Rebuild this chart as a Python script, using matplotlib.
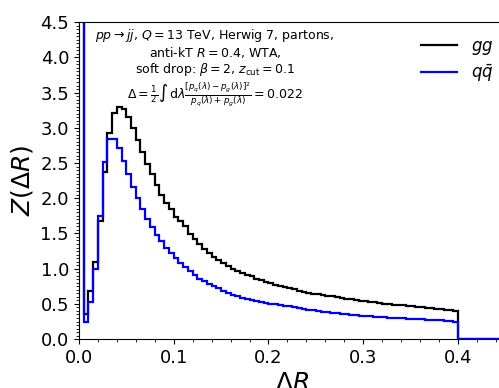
"""Z(ΔR) distribution for gg vs qqbar jets (Herwig 7, soft drop)."""
import matplotlib
matplotlib.use("Agg")
import matplotlib.pyplot as plt
import numpy as np
from matplotlib.ticker import MultipleLocator

# bin width 0.005 in ΔR, values from 0 up to R = 0.4
BIN_WIDTH = 0.005
gg = [
    6.0, 0.36, 0.69, 1.09, 1.67, 2.37, 2.93, 3.21, 3.30, 3.27,
    3.15, 3.00, 2.83, 2.65, 2.48, 2.34, 2.19, 2.05, 1.93, 1.84,
    1.74, 1.67, 1.60, 1.49, 1.42, 1.35, 1.28, 1.22, 1.17, 1.12,
    1.08, 1.04, 1.00, 0.97, 0.94, 0.915, 0.89, 0.86, 0.835, 0.81,
    0.79, 0.775, 0.76, 0.745, 0.72, 0.705, 0.69, 0.675, 0.66, 0.645,
    0.635, 0.625, 0.615, 0.605, 0.595, 0.585, 0.575, 0.565, 0.555, 0.545,
    0.535, 0.525, 0.52, 0.51, 0.50, 0.495, 0.49, 0.485, 0.48, 0.475,
    0.465, 0.455, 0.45, 0.44, 0.435, 0.43, 0.425, 0.42, 0.41, 0.405,
]
qq = [
    6.0, 0.25, 0.53, 1.00, 1.75, 2.51, 2.84, 2.84, 2.72, 2.53,
    2.34, 2.16, 2.00, 1.84, 1.71, 1.59, 1.48, 1.39, 1.30, 1.22,
    1.15, 1.08, 1.02, 0.96, 0.91, 0.86, 0.82, 0.78, 0.75, 0.72,
    0.68, 0.65, 0.625, 0.605, 0.585, 0.57, 0.555, 0.54, 0.525, 0.515,
    0.505, 0.495, 0.485, 0.475, 0.465, 0.455, 0.44, 0.43, 0.42, 0.41,
    0.40, 0.39, 0.385, 0.375, 0.37, 0.36, 0.355, 0.345, 0.34, 0.335,
    0.33, 0.325, 0.32, 0.315, 0.31, 0.305, 0.30, 0.30, 0.295, 0.29,
    0.285, 0.28, 0.28, 0.275, 0.27, 0.27, 0.265, 0.26, 0.255, 0.25,
]
# nothing beyond the jet radius
tail = [0.0] * 10

labels = ["$gg$", r"$q\bar{q}$"]
info = (
    r"$pp \to jj$, $Q = 13$ TeV, Herwig 7, partons," "\n"
    r"anti-kT $R = 0.4$, WTA," "\n"
    r"soft drop: $\beta = 2$, $z_{\rm cut} = 0.1$" "\n"
    r"$\Delta = \frac{1}{2}\int\,{\rm d}\lambda"
    r"\frac{[p_q(\lambda) - p_g(\lambda)]^2}{p_q(\lambda) + p_g(\lambda)} = 0.022$"
)

edges = np.arange(len(gg) + len(tail) + 1) * BIN_WIDTH

fig = plt.figure(figsize=(4.99, 3.88), dpi=100)
ax = fig.add_axes([0.158, 0.126, 0.855, 0.817])

ax.stairs(gg + tail, edges, baseline=None, color="black", lw=1.6, label=labels[0])
ax.stairs(qq + tail, edges, baseline=None, color="blue", lw=1.6, label=labels[1])

ax.set_xlim(0, 0.45)
ax.set_ylim(0, 4.5)
ax.xaxis.set_major_locator(MultipleLocator(0.1))
ax.xaxis.set_minor_locator(MultipleLocator(0.02))
ax.yaxis.set_major_locator(MultipleLocator(0.5))
ax.yaxis.set_minor_locator(MultipleLocator(0.05))
ax.tick_params(labelsize=13)
ax.set_xlabel(r"$\Delta R$", fontsize=18, labelpad=3)
ax.set_ylabel(r"$Z(\Delta R)$", fontsize=18)

ax.text(0.319, 0.985, info, transform=ax.transAxes, ha="center",
        va="top", fontsize=9, linespacing=1.1)

ax.legend(loc="upper right", bbox_to_anchor=(1.006, 1.0), frameon=False,
          fontsize=12, handlelength=2.2, labelspacing=0.3)

fig.savefig("out.png", dpi=100)
